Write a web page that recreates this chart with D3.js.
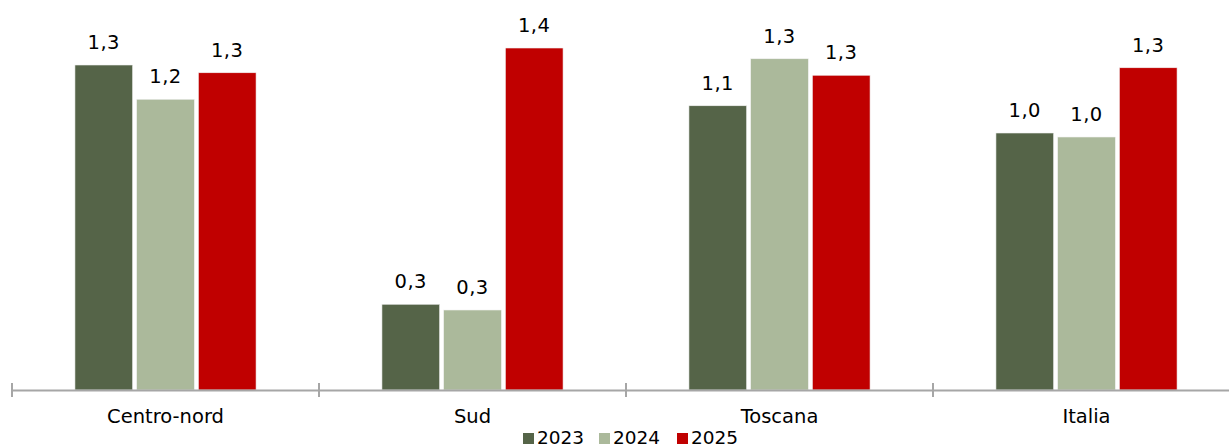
<!DOCTYPE html>
<html>
<head>
<meta charset="utf-8">
<script src="https://cdn.jsdelivr.net/npm/d3@7"></script>
<style>
  html, body { margin: 0; padding: 0; background: #fff; }
  svg { display: block; }
  text { font-family: "DejaVu Sans", sans-serif; fill: #000; }
</style>
</head>
<body>
<svg id="chart" width="1229" height="448"></svg>
<script>
// Categories and yearly series
const categories = ["Centro-nord", "Sud", "Toscana", "Italia"];
const years = ["2023", "2024", "2025"];
const values2023 = [1.30, 0.343, 1.137, 1.028];
const values2024 = [1.163, 0.32, 1.325, 1.012];
const values2025 = [1.269, 1.368, 1.259, 1.289];
const colors = ["#556448", "#ABB99B", "#C00000"];

const series = [values2023, values2024, values2025];

const width = 1229, height = 448;
const margin = { left: 12, right: -11, top: 0, bottom: 58 };
const baseline = height - margin.bottom;

const svg = d3.select("#chart");

const x = d3.scaleBand()
  .domain(categories)
  .range([margin.left, width - margin.right])
  .paddingInner(0)
  .paddingOuter(0);

const groupWidth = x.bandwidth() * 0.59;
const xInner = d3.scaleBand()
  .domain(years)
  .range([0, groupWidth])
  .paddingInner(0.065);

const y = d3.scaleLinear()
  .domain([0, 1.56])
  .range([baseline, baseline - 390]);

const fmt = v => d3.format(".1f")(v).replace(".", ",");

// Bars and value labels
categories.forEach((cat, ci) => {
  const g = svg.append("g")
    .attr("transform", `translate(${x(cat) + (x.bandwidth() - groupWidth) / 2},0)`);
  years.forEach((yr, si) => {
    const v = series[si][ci];
    g.append("rect")
      .attr("x", xInner(yr))
      .attr("y", y(v))
      .attr("width", xInner.bandwidth())
      .attr("height", y(0) - y(v))
      .attr("fill", colors[si])
      .attr("stroke", "#f2f2f2")
      .attr("stroke-width", 0.6);
    g.append("text")
      .attr("x", xInner(yr) + xInner.bandwidth() / 2)
      .attr("y", y(v) - 16)
      .attr("text-anchor", "middle")
      .attr("font-size", 19.5)
      .attr("letter-spacing", 0.5)
      .text(fmt(v));
  });
});

// Category axis
const axis = d3.axisBottom(x).tickSize(8).tickSizeOuter(0).tickFormat(d => d);
const ax = svg.append("g")
  .attr("transform", `translate(0,${baseline})`)
  .call(axis);
ax.select(".domain").attr("stroke", "#A6A6A6").attr("stroke-width", 2);
ax.selectAll(".tick line").remove();
ax.selectAll(".tick text")
  .attr("y", 19)
  .attr("dy", "0.71em")
  .attr("font-size", 19.5)
  .attr("font-family", "DejaVu Sans, sans-serif")
  .attr("fill", "#000");

// Separator ticks at category boundaries
const bounds = categories.map(c => x(c)).concat([x(categories[categories.length - 1]) + x.bandwidth()]);
svg.append("g").selectAll("line")
  .data(bounds)
  .join("line")
  .attr("x1", d => d).attr("x2", d => d)
  .attr("y1", baseline - 7).attr("y2", baseline + 7)
  .attr("stroke", "#A6A6A6")
  .attr("stroke-width", 2);

// Legend
const legend = svg.append("g");
const legendX = [523, 599, 677];
years.forEach((yr, i) => {
  legend.append("rect")
    .attr("x", legendX[i]).attr("y", 433)
    .attr("width", 11).attr("height", 11)
    .attr("fill", colors[i]);
  legend.append("text")
    .attr("x", legendX[i] + 14).attr("y", 444)
    .attr("font-size", 18.5)
    .text(yr);
});
</script>
</body>
</html>
